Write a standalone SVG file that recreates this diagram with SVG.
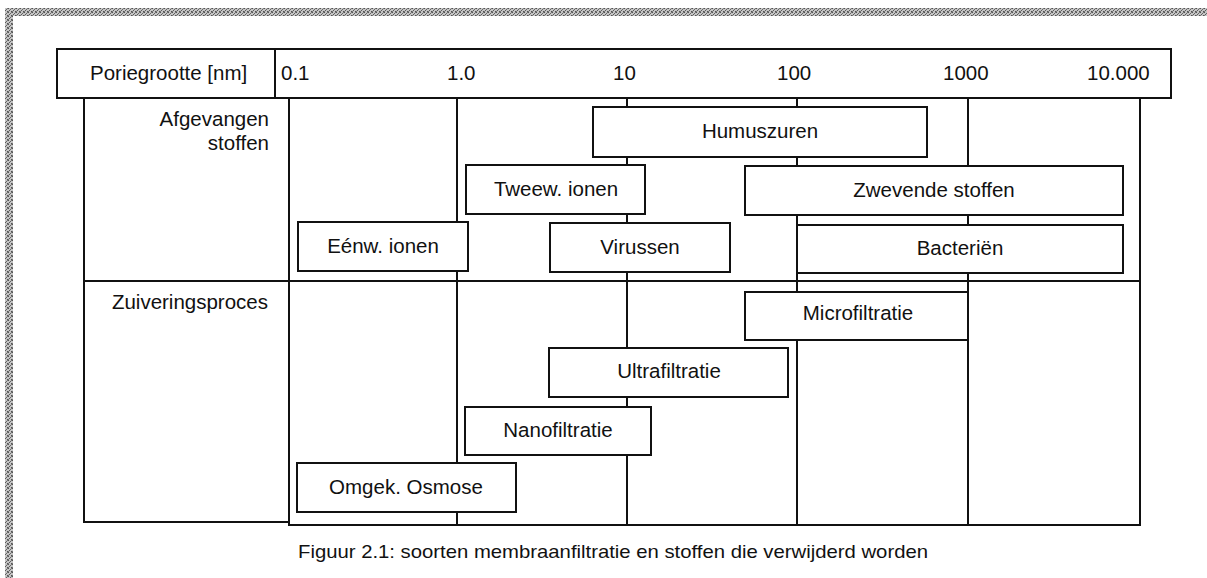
<svg xmlns="http://www.w3.org/2000/svg" width="1207" height="578" viewBox="0 0 1207 578">
<defs>
<pattern id="dither" width="4" height="4" patternUnits="userSpaceOnUse">
<rect width="4" height="4" fill="#c4c4c4"/>
<rect x="0" y="0" width="1" height="1" fill="#555"/>
<rect x="2" y="1" width="1" height="1" fill="#666"/>
<rect x="1" y="2" width="1" height="1" fill="#5a5a5a"/>
<rect x="3" y="3" width="1" height="1" fill="#555"/>
<rect x="3" y="0" width="1" height="1" fill="#777"/>
<rect x="0" y="3" width="1" height="1" fill="#777"/>
</pattern>
</defs>
<style>
.frame{fill:none;stroke:#111;stroke-width:2}
.grid{stroke:#111;stroke-width:2;fill:none}
.box{fill:#fff;stroke:#111;stroke-width:2}
.lbl{font-family:"Liberation Sans",Arial,Helvetica,sans-serif;font-size:20.5px;fill:#111}
.mid{text-anchor:middle}
.end{text-anchor:end}
.cap{font-family:"Liberation Sans",Arial,Helvetica,sans-serif;font-size:18.5px;fill:#111}
</style>
<rect width="1207" height="578" fill="#fff"/>
<g id="border">
<rect x="5" y="8" width="1202" height="8" fill="url(#dither)"/>
<rect x="5" y="8" width="8" height="570" fill="url(#dither)"/>
</g>
<g id="header">
<rect class="frame" x="57" y="49" width="1114" height="49"/>
<line class="frame" x1="275" y1="49" x2="275" y2="98"/>
<text class="lbl" x="90" y="80">Poriegrootte [nm]</text>
<text class="lbl" x="281" y="80">0.1</text>
<text class="lbl" x="447" y="80">1.0</text>
<text class="lbl" x="613" y="80">10</text>
<text class="lbl" x="777" y="80">100</text>
<text class="lbl" x="943" y="80">1000</text>
<text class="lbl" x="1087" y="80">10.000</text>
</g>
<g id="labels">
<rect class="frame" x="84" y="98" width="205" height="424"/>
<text class="lbl end" x="269" y="126">Afgevangen</text>
<text class="lbl end" x="269" y="150">stoffen</text>
<text class="lbl end" x="268" y="309">Zuiveringsproces</text>
</g>
<g id="connectors">
<rect class="grid" x="289" y="98" width="851" height="427"/>
<line class="grid" x1="84" y1="281" x2="1140" y2="281"/>
<line class="grid" x1="457" y1="98" x2="457" y2="525"/>
<line class="grid" x1="627" y1="98" x2="627" y2="525"/>
<line class="grid" x1="797" y1="98" x2="797" y2="525"/>
<line class="grid" x1="968" y1="98" x2="968" y2="525"/>
</g>
<g id="humuszuren"><rect class="box" x="593" y="107" width="334" height="50"/><text class="lbl mid" x="760" y="138">Humuszuren</text></g>
<g id="tweew-ionen"><rect class="box" x="466" y="165" width="179" height="49"/><text class="lbl mid" x="556" y="196">Tweew. ionen</text></g>
<g id="zwevende-stoffen"><rect class="box" x="745" y="166" width="378" height="49"/><text class="lbl mid" x="934" y="197">Zwevende stoffen</text></g>
<g id="eenw-ionen"><rect class="box" x="298" y="222" width="170" height="49"/><text class="lbl mid" x="383" y="253">Eénw. ionen</text></g>
<g id="virussen"><rect class="box" x="550" y="223" width="180" height="49"/><text class="lbl mid" x="640" y="254">Virussen</text></g>
<g id="bacterien"><rect class="box" x="797" y="225" width="326" height="48"/><text class="lbl mid" x="960" y="255">Bacteriën</text></g>
<g id="microfiltratie"><rect class="box" x="745" y="292" width="223" height="48"/><text class="lbl mid" x="858" y="320">Microfiltratie</text></g>
<g id="ultrafiltratie"><rect class="box" x="549" y="348" width="239" height="49"/><text class="lbl mid" x="669" y="378">Ultrafiltratie</text></g>
<g id="nanofiltratie"><rect class="box" x="465" y="407" width="186" height="48"/><text class="lbl mid" x="558" y="437">Nanofiltratie</text></g>
<g id="omgek-osmose"><rect class="box" x="297" y="463" width="219" height="49"/><text class="lbl mid" x="406" y="494">Omgek. Osmose</text></g>
<g id="caption"><text class="cap" x="298" y="558" textLength="630" lengthAdjust="spacingAndGlyphs">Figuur 2.1: soorten membraanfiltratie en stoffen die verwijderd worden</text></g>
</svg>
